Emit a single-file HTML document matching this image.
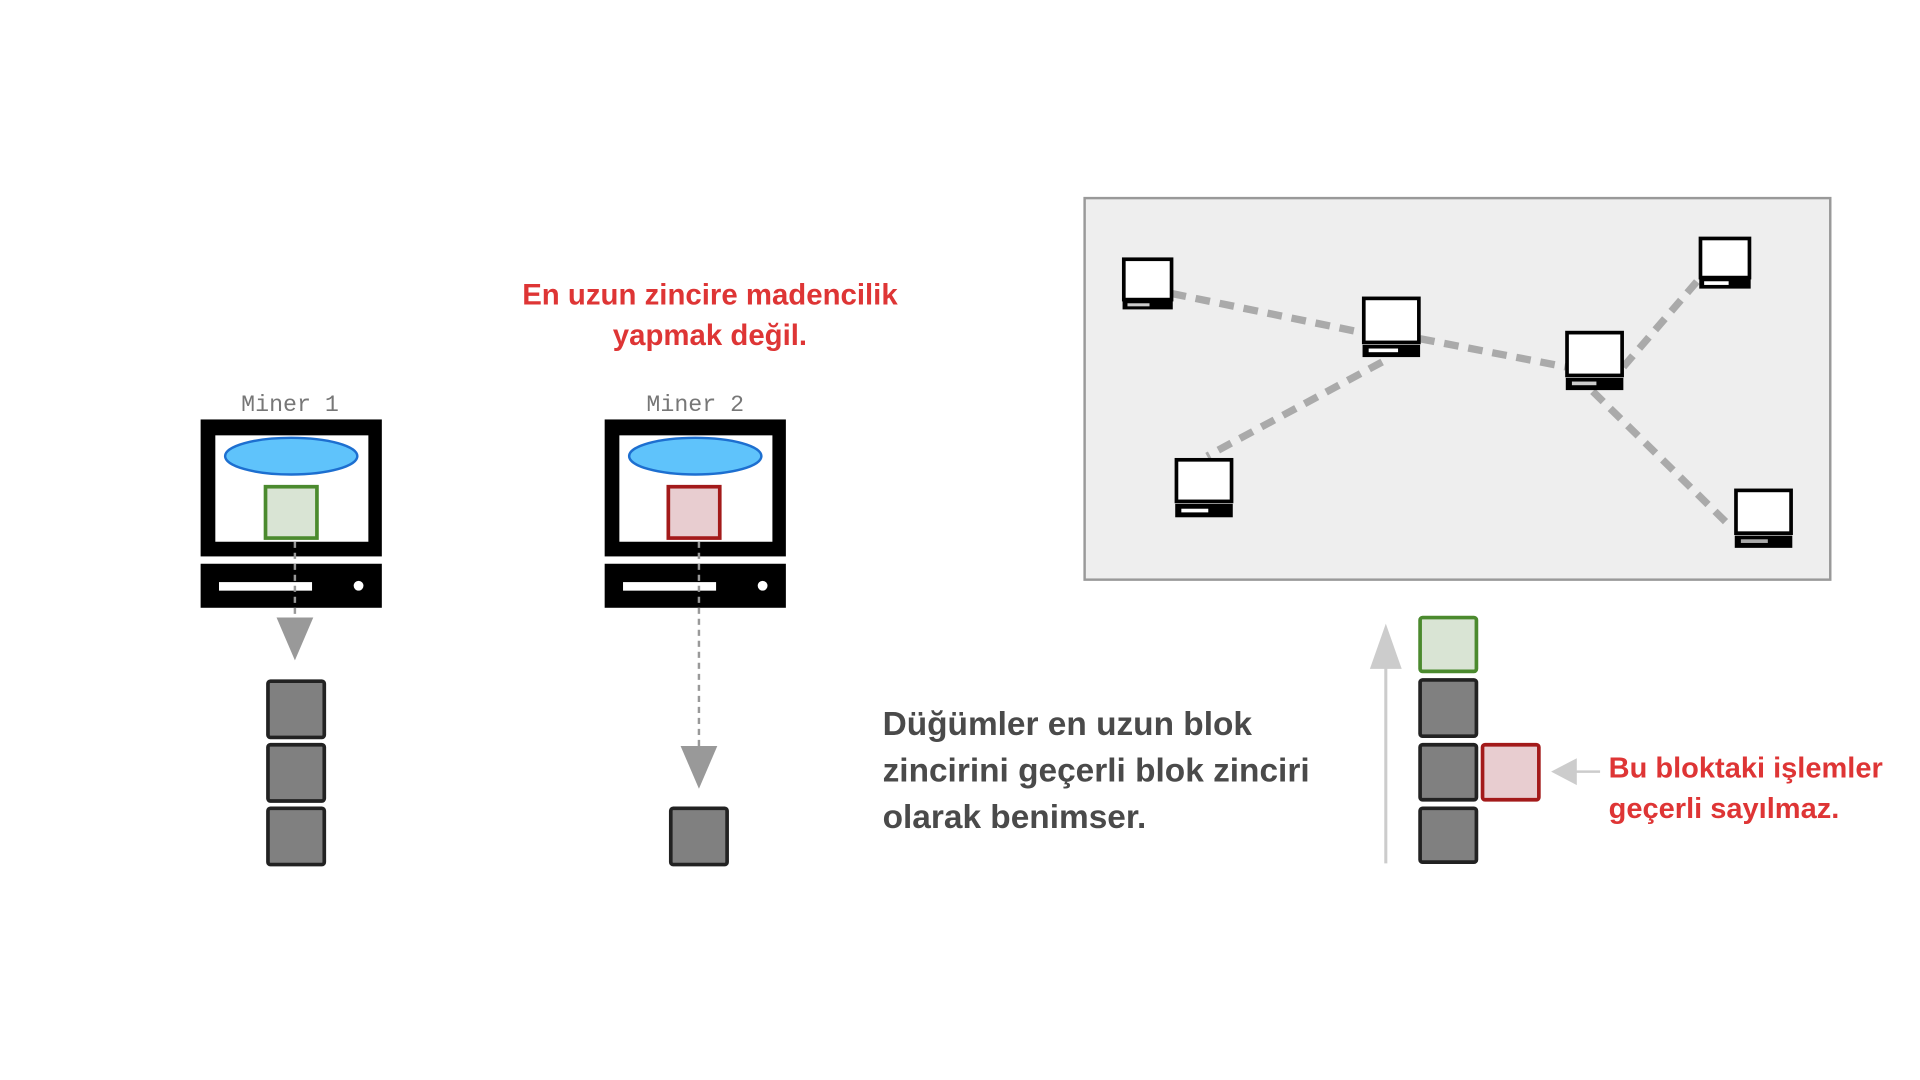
<!DOCTYPE html>
<html><head><meta charset="utf-8"><style>html,body{margin:0;padding:0;background:#fff;width:1920px;height:1080px;overflow:hidden}</style></head>
<body>
<svg width="1920" height="1080" viewBox="0 0 1560 877.5" preserveAspectRatio="none" xmlns="http://www.w3.org/2000/svg" font-family="Liberation Sans, sans-serif">
<defs>
<g id="pc">
 <rect x="0" y="0" width="148" height="112" fill="#000"/>
 <rect x="12" y="13" width="125" height="87" fill="#fff"/>
 <ellipse cx="74" cy="30" rx="54" ry="15" fill="#5fc3fb" stroke="#1d6fd0" stroke-width="2"/>
 <rect x="0" y="118" width="148" height="36" fill="#000"/>
 <rect x="15" y="133" width="76" height="7" fill="#fff"/>
 <circle cx="129" cy="136" r="4" fill="#fff"/>
</g>
</defs>
<g transform="translate(0.855,0) scale(0.9948,0.9936)">
<!-- Miner 1 -->
<text x="236" y="336" font-family="Liberation Mono, monospace" font-size="19" fill="#777" text-anchor="middle">Miner 1</text>
<use href="#pc" x="163" y="343"/>
<rect x="216" y="398" width="42" height="42" fill="#d9e4d4" stroke="#4b8a2e" stroke-width="3"/>
<line x1="240" y1="443" x2="240" y2="510" stroke="#999" stroke-width="2" stroke-dasharray="5,4"/>
<polygon points="225,505 255,505 240,540" fill="#999"/>
<g fill="#808080" stroke="#222" stroke-width="3">
<rect x="218" y="557" width="46" height="46" rx="2"/>
<rect x="218" y="609" width="46" height="46" rx="2"/>
<rect x="218" y="661" width="46" height="46" rx="2"/>
</g>

<!-- Miner 2 -->
<text x="567" y="336" font-family="Liberation Mono, monospace" font-size="19" fill="#777" text-anchor="middle">Miner 2</text>
<use href="#pc" x="493" y="343"/>
<rect x="545" y="398" width="42" height="42" fill="#e8cdd0" stroke="#a31a1a" stroke-width="3"/>
<line x1="570" y1="443" x2="570" y2="615" stroke="#999" stroke-width="2" stroke-dasharray="5,4"/>
<polygon points="555,610 585,610 570,645" fill="#999"/>
<rect x="547" y="661" width="46" height="46" rx="2" fill="#808080" stroke="#222" stroke-width="3"/>

<text x="579" y="249" font-size="24" font-weight="bold" fill="#de3535" text-anchor="middle">En uzun zincire madencilik</text>
<text x="579" y="282" font-size="24" font-weight="bold" fill="#de3535" text-anchor="middle">yapmak değil.</text>

<!-- middle text -->
<g font-size="27.3" font-weight="bold" fill="#4a4a4a">
<text x="720" y="601">Düğümler en uzun blok</text>
<text x="720" y="639">zincirini geçerli blok zinciri</text>
<text x="720" y="677">olarak benimser.</text>
</g>

<!-- network -->
<rect x="885" y="162" width="609" height="312" fill="#eeeeee" stroke="#999" stroke-width="2"/>
<g stroke="#aaa" stroke-width="6" stroke-dasharray="12,8" fill="none">
<line x1="956" y1="240" x2="1112" y2="272"/>
<line x1="1159" y1="277" x2="1278" y2="300"/>
<line x1="1128" y1="296" x2="985" y2="373"/>
<line x1="1325" y1="300" x2="1387" y2="228"/>
<line x1="1300" y1="320" x2="1414" y2="432"/>
</g>
<g>
<rect x="917" y="212" width="39" height="33" fill="#fff" stroke="#000" stroke-width="3"/>
<rect x="916" y="246" width="41" height="7" fill="#000"/><rect x="920" y="248" width="18" height="2.5" fill="#ccc"/>
<rect x="1113" y="244" width="45" height="36" fill="#fff" stroke="#000" stroke-width="3"/>
<rect x="1112" y="282" width="47" height="10" fill="#000"/><rect x="1117" y="285" width="24" height="3" fill="#fff"/>
<rect x="1279" y="272" width="45" height="35" fill="#fff" stroke="#000" stroke-width="3"/>
<rect x="1278" y="309" width="47" height="10" fill="#000"/><rect x="1283" y="312" width="20" height="3" fill="#ccc"/>
<rect x="1388" y="195" width="40" height="32" fill="#fff" stroke="#000" stroke-width="3"/>
<rect x="1387" y="228" width="42" height="8" fill="#000"/><rect x="1391" y="230" width="20" height="3" fill="#fff"/>
<rect x="960" y="376" width="45" height="34" fill="#fff" stroke="#000" stroke-width="3"/>
<rect x="959" y="412" width="47" height="11" fill="#000"/><rect x="964" y="416" width="22" height="3" fill="#fff"/>
<rect x="1417" y="401" width="45" height="35" fill="#fff" stroke="#000" stroke-width="3"/>
<rect x="1416" y="438" width="47" height="10" fill="#000"/><rect x="1421" y="441" width="22" height="3" fill="#aaa"/>
</g>

<!-- right chain -->
<line x1="1131" y1="706" x2="1131" y2="540" stroke="#ccc" stroke-width="2.5"/>
<polygon points="1118,547 1144,547 1131,510" fill="#ccc"/>
<rect x="1159" y="505" width="46" height="44" rx="2" fill="#d9e4d4" stroke="#4b8a2e" stroke-width="3"/>
<g fill="#808080" stroke="#222" stroke-width="3">
<rect x="1159" y="556" width="46" height="46" rx="2"/>
<rect x="1159" y="609" width="46" height="45" rx="2"/>
<rect x="1159" y="661" width="46" height="44" rx="2"/>
</g>
<rect x="1210" y="609" width="46" height="45" rx="2" fill="#e8cdd0" stroke="#a31a1a" stroke-width="3"/>
<line x1="1280" y1="631" x2="1306" y2="631" stroke="#ccc" stroke-width="2"/>
<polygon points="1266,631 1287,620 1287,642" fill="#ccc"/>
<text x="1313" y="636" font-size="23.7" font-weight="bold" fill="#de3535">Bu bloktaki işlemler</text>
<text x="1313" y="669" font-size="23.7" font-weight="bold" fill="#de3535">geçerli sayılmaz.</text>
</g>
</svg>
</body></html>
